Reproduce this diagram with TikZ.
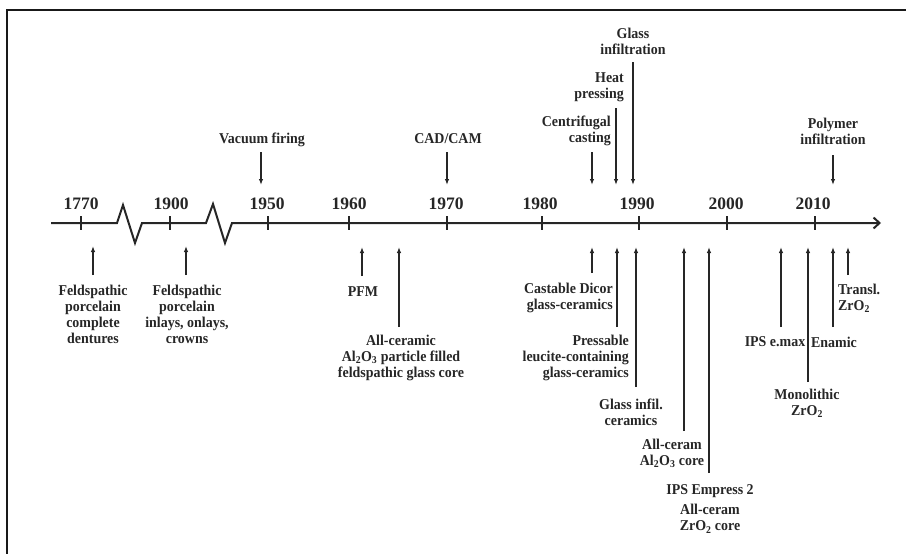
\documentclass[tikz,border=0pt]{standalone}
\usepackage{fontspec}
\setmainfont{Liberation Serif}
\usetikzlibrary{arrows.meta}

\begin{document}
\begin{tikzpicture}[x=1pt,y=-1pt,
    lbl/.style={font=\bfseries\fontsize{15}{16}\selectfont, text=black!85,
        align=center, inner sep=0pt, xscale=0.93},
    yr/.style={font=\bfseries\fontsize{17.5}{18}\selectfont, text=black!85,
        inner sep=0pt},
    arr/.style={line width=1.4pt, draw=black!85, -{Latex[length=6pt,width=4.5pt]}},
    tck/.style={line width=1.6pt, draw=black!85}]
\useasboundingbox (0,0) rectangle (906,554);
\draw[line width=2.5pt, black!90] (7,554) -- (7,10) -- (906,10);

% time axis with two breaks
\coordinate (axL) at (51,223);
\coordinate (axR) at (881,223);
\draw[line width=2pt, black!85, -{Straight Barb[length=6pt,width=11pt]}]
    (axL) -- (117,223) -- (123,205) -- (135,243) -- (142,223) -- (206,223)
    -- (213,204) -- (225,243) -- (232,223) -- (axR);

% years
\node[yr] (y1770) at (81,204) {1770};
\node[yr] (y1900) at (171,204) {1900};
\node[yr] (y1950) at (267,204) {1950};
\node[yr] (y1960) at (349,204) {1960};
\node[yr] (y1970) at (446,204) {1970};
\node[yr] (y1980) at (540,204) {1980};
\node[yr] (y1990) at (637,204) {1990};
\node[yr] (y2000) at (726,204) {2000};
\node[yr] (y2010) at (813,204) {2010};
\draw[tck] (81,216) -- (81,230);
\draw[tck] (170,216) -- (170,230);
\draw[tck] (268,216) -- (268,230);
\draw[tck] (349,216) -- (349,230);
\draw[tck] (447,216) -- (447,230);
\draw[tck] (542,216) -- (542,230);
\draw[tck] (639,216) -- (639,230);
\draw[tck] (727,216) -- (727,230);
\draw[tck] (815,216) -- (815,230);

% processing techniques (above)
\node[lbl] (vac) at (262,140) {Vacuum firing};
\node[lbl] (cad) at (448,139) {CAD/CAM};
\node[lbl, anchor=east, align=right] (cent) at (611,131) {Centrifugal\\casting};
\node[lbl, anchor=east, align=right] (heat) at (624,87) {Heat\\pressing};
\node[lbl] (ginf) at (633,41) {Glass\\infiltration};
\node[lbl] (poly) at (833,131) {Polymer\\infiltration};

\coordinate (vacT) at (261,152); \coordinate (vacH) at (261,185);
\draw[arr] (vacT) -- (vacH);
\coordinate (cadT) at (447,152); \coordinate (cadH) at (447,185);
\draw[arr] (cadT) -- (cadH);
\coordinate (centT) at (592,152); \coordinate (centH) at (592,185);
\draw[arr] (centT) -- (centH);
\coordinate (heatT) at (616,108); \coordinate (heatH) at (616,185);
\draw[arr] (heatT) -- (heatH);
\coordinate (ginfT) at (633,62); \coordinate (ginfH) at (633,185);
\draw[arr] (ginfT) -- (ginfH);
\coordinate (polyT) at (833,155); \coordinate (polyH) at (833,185);
\draw[arr] (polyT) -- (polyH);

% materials (below)
\node[lbl] (feld1) at (93,314) {Feldspathic\\porcelain\\complete\\dentures};
\node[lbl] (feld2) at (187,314) {Feldspathic\\porcelain\\inlays, onlays,\\crowns};
\node[lbl] (pfm) at (363,292) {PFM};
\node[lbl] (allc) at (401,358)
    {All-ceramic\\Al\textsubscript{2}O\textsubscript{3} particle filled\\feldspathic glass core};
\node[lbl, anchor=east, align=right] (dicor) at (613,298) {Castable Dicor\\glass-ceramics};
\node[lbl, anchor=east, align=right] (press) at (629,358)
    {Pressable\\leucite-containing\\glass-ceramics};
\node[lbl] (ginfc) at (631,412) {Glass infil.\\ceramics};
\node[lbl] (alcore) at (672,453) {All-ceram\\Al\textsubscript{2}O\textsubscript{3} core};
\node[lbl] (emp) at (710,509) {IPS Empress 2\\[4pt]All-ceram\\ZrO\textsubscript{2} core};
\node[lbl] (emax) at (775,342) {IPS e.max};
\node[lbl] (mono) at (807,403) {Monolithic\\ZrO\textsubscript{2}};
\node[lbl] (enam) at (834,342) {Enamic};
\node[lbl, anchor=west, align=left] (transl) at (838,298) {Transl.\\ZrO\textsubscript{2}};

\coordinate (feld1T) at (93,275); \coordinate (feld1H) at (93,246);
\draw[arr] (feld1T) -- (feld1H);
\coordinate (feld2T) at (186,275); \coordinate (feld2H) at (186,246);
\draw[arr] (feld2T) -- (feld2H);
\coordinate (pfmT) at (362,276); \coordinate (pfmH) at (362,247);
\draw[arr] (pfmT) -- (pfmH);
\coordinate (allcT) at (399,327); \coordinate (allcH) at (399,247);
\draw[arr] (allcT) -- (allcH);
\coordinate (dicorT) at (592,273); \coordinate (dicorH) at (592,247);
\draw[arr] (dicorT) -- (dicorH);
\coordinate (pressT) at (617,327); \coordinate (pressH) at (617,247);
\draw[arr] (pressT) -- (pressH);
\coordinate (ginfcT) at (636,387); \coordinate (ginfcH) at (636,247);
\draw[arr] (ginfcT) -- (ginfcH);
\coordinate (alcoreT) at (684,431); \coordinate (alcoreH) at (684,247);
\draw[arr] (alcoreT) -- (alcoreH);
\coordinate (empT) at (709,473); \coordinate (empH) at (709,247);
\draw[arr] (empT) -- (empH);
\coordinate (emaxT) at (781,327); \coordinate (emaxH) at (781,247);
\draw[arr] (emaxT) -- (emaxH);
\coordinate (monoT) at (808,382); \coordinate (monoH) at (808,247);
\draw[arr] (monoT) -- (monoH);
\coordinate (enamT) at (833,327); \coordinate (enamH) at (833,247);
\draw[arr] (enamT) -- (enamH);
\coordinate (translT) at (848,275); \coordinate (translH) at (848,247);
\draw[arr] (translT) -- (translH);
\end{tikzpicture}
\end{document}
